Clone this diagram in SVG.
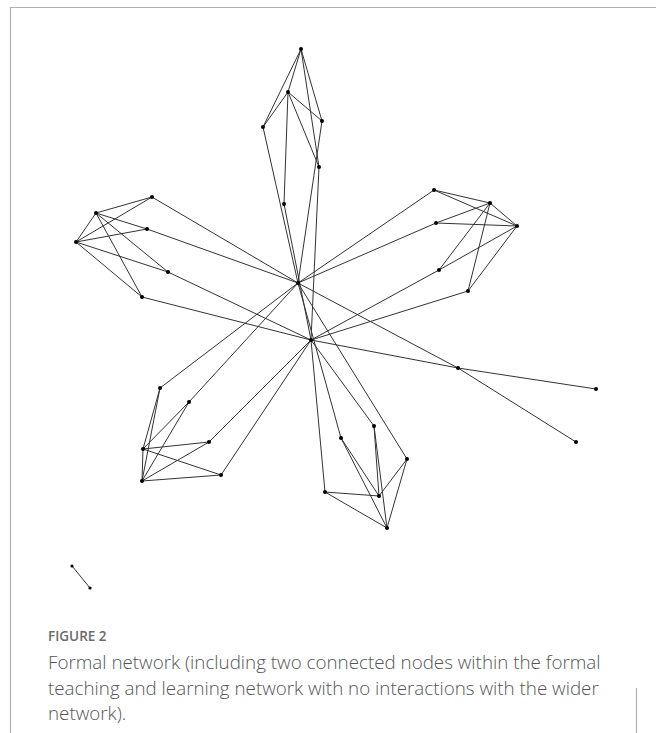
<svg xmlns="http://www.w3.org/2000/svg" width="656" height="733" viewBox="0 0 656 733">
<style>
.e{stroke:#333;stroke-width:1;fill:none}
.n circle{fill:#000}
.frame{stroke:#b0b0b0;stroke-width:1.2;fill:none}
.fig{font-family:"Open Sans","Liberation Sans",sans-serif;font-size:13.5px;font-weight:600;fill:#6a6a6a}
.cap{font-family:"Open Sans","Liberation Sans",sans-serif;font-size:18.8px;font-weight:300;fill:#555}
</style>
<rect width="656" height="733" fill="#fff"/>
<path class="frame" d="M10.5,733 V7.5 H656 M636.5,688 V733"/>
<g id="connectors" class="e">
<line x1="301" y1="49" x2="288" y2="92"/>
<line x1="301" y1="49" x2="263" y2="127"/>
<line x1="301" y1="49" x2="322" y2="121"/>
<line x1="301" y1="49" x2="319" y2="167"/>
<line x1="288" y1="92" x2="263" y2="127"/>
<line x1="288" y1="92" x2="322" y2="121"/>
<line x1="288" y1="92" x2="319" y2="167"/>
<line x1="288" y1="92" x2="284" y2="204"/>
<line x1="263" y1="127" x2="298" y2="283"/>
<line x1="322" y1="121" x2="298" y2="283"/>
<line x1="319" y1="167" x2="311" y2="340"/>
<line x1="284" y1="204" x2="311" y2="340"/>
<line x1="96" y1="213" x2="152" y2="197"/>
<line x1="76" y1="242" x2="152" y2="197"/>
<line x1="96" y1="213" x2="147" y2="229"/>
<line x1="76" y1="242" x2="147" y2="229"/>
<line x1="76" y1="242" x2="96" y2="213"/>
<line x1="96" y1="213" x2="168" y2="272"/>
<line x1="96" y1="213" x2="142" y2="297"/>
<line x1="76" y1="242" x2="168" y2="272"/>
<line x1="76" y1="242" x2="142" y2="297"/>
<line x1="152" y1="197" x2="298" y2="283"/>
<line x1="147" y1="229" x2="298" y2="283"/>
<line x1="168" y1="272" x2="311" y2="340"/>
<line x1="142" y1="297" x2="311" y2="340"/>
<line x1="434" y1="190" x2="490" y2="203"/>
<line x1="434" y1="190" x2="517" y2="226"/>
<line x1="436" y1="223" x2="490" y2="203"/>
<line x1="436" y1="223" x2="517" y2="226"/>
<line x1="490" y1="203" x2="517" y2="226"/>
<line x1="490" y1="203" x2="439" y2="270"/>
<line x1="490" y1="203" x2="468" y2="291"/>
<line x1="517" y1="226" x2="439" y2="270"/>
<line x1="517" y1="226" x2="468" y2="291"/>
<line x1="434" y1="190" x2="298" y2="283"/>
<line x1="436" y1="223" x2="298" y2="283"/>
<line x1="439" y1="270" x2="311" y2="340"/>
<line x1="468" y1="291" x2="311" y2="340"/>
<line x1="298" y1="283" x2="458" y2="368"/>
<line x1="458" y1="368" x2="576" y2="442"/>
<line x1="311" y1="340" x2="458" y2="368"/>
<line x1="458" y1="368" x2="596" y2="389"/>
<line x1="160" y1="388" x2="143" y2="449"/>
<line x1="160" y1="388" x2="142" y2="481"/>
<line x1="189" y1="402" x2="143" y2="449"/>
<line x1="189" y1="402" x2="142" y2="481"/>
<line x1="143" y1="449" x2="209" y2="442"/>
<line x1="143" y1="449" x2="221" y2="475"/>
<line x1="143" y1="449" x2="142" y2="481"/>
<line x1="142" y1="481" x2="209" y2="442"/>
<line x1="142" y1="481" x2="221" y2="475"/>
<line x1="160" y1="388" x2="298" y2="283"/>
<line x1="189" y1="402" x2="298" y2="283"/>
<line x1="209" y1="442" x2="311" y2="340"/>
<line x1="221" y1="475" x2="311" y2="340"/>
<line x1="374" y1="426" x2="379" y2="496"/>
<line x1="374" y1="426" x2="387" y2="528"/>
<line x1="341" y1="438" x2="379" y2="496"/>
<line x1="341" y1="438" x2="387" y2="528"/>
<line x1="407" y1="459" x2="379" y2="496"/>
<line x1="407" y1="459" x2="387" y2="528"/>
<line x1="325" y1="492" x2="379" y2="496"/>
<line x1="325" y1="492" x2="387" y2="528"/>
<line x1="325" y1="492" x2="311" y2="340"/>
<line x1="341" y1="438" x2="298" y2="283"/>
<line x1="374" y1="426" x2="311" y2="340"/>
<line x1="407" y1="459" x2="298" y2="283"/>
<line x1="72" y1="566" x2="90" y2="588"/>
</g>
<g class="n">
<g id="T0"><circle cx="301" cy="49" r="2"/></g>
<g id="T1"><circle cx="288" cy="92" r="2"/></g>
<g id="T2"><circle cx="263" cy="127" r="2"/></g>
<g id="T3"><circle cx="322" cy="121" r="2"/></g>
<g id="T4"><circle cx="319" cy="167" r="2"/></g>
<g id="T5"><circle cx="284" cy="204" r="2"/></g>
<g id="H1"><circle cx="298" cy="283" r="2"/></g>
<g id="H2"><circle cx="311" cy="340" r="2"/></g>
<g id="La"><circle cx="152" cy="197" r="2"/></g>
<g id="Lb"><circle cx="96" cy="213" r="2"/></g>
<g id="Lc"><circle cx="147" cy="229" r="2"/></g>
<g id="Ld"><circle cx="76" cy="242" r="2"/></g>
<g id="Le"><circle cx="168" cy="272" r="2"/></g>
<g id="Lf"><circle cx="142" cy="297" r="2"/></g>
<g id="Ra"><circle cx="434" cy="190" r="2"/></g>
<g id="Rb"><circle cx="490" cy="203" r="2"/></g>
<g id="Rc"><circle cx="436" cy="223" r="2"/></g>
<g id="Rd"><circle cx="517" cy="226" r="2"/></g>
<g id="Re"><circle cx="439" cy="270" r="2"/></g>
<g id="Rf"><circle cx="468" cy="291" r="2"/></g>
<g id="N1"><circle cx="458" cy="368" r="2"/></g>
<g id="N2"><circle cx="596" cy="389" r="2"/></g>
<g id="N3"><circle cx="576" cy="442" r="2"/></g>
<g id="BLa"><circle cx="160" cy="388" r="2"/></g>
<g id="BLb"><circle cx="189" cy="402" r="2"/></g>
<g id="BLc"><circle cx="143" cy="449" r="2"/></g>
<g id="BLd"><circle cx="209" cy="442" r="2"/></g>
<g id="BLe"><circle cx="221" cy="475" r="2"/></g>
<g id="BLf"><circle cx="142" cy="481" r="2"/></g>
<g id="Ba"><circle cx="374" cy="426" r="2"/></g>
<g id="Bb"><circle cx="341" cy="438" r="2"/></g>
<g id="Bc"><circle cx="407" cy="459" r="2"/></g>
<g id="Bd"><circle cx="325" cy="492" r="2"/></g>
<g id="Be"><circle cx="379" cy="496" r="2"/></g>
<g id="Bf"><circle cx="387" cy="528" r="2"/></g>
<g id="P1"><circle cx="72" cy="566" r="1.6"/></g>
<g id="P2"><circle cx="90" cy="588" r="1.6"/></g>
</g>
<text class="fig" x="48" y="641">FIGURE 2</text>
<text class="cap" x="48" y="669">Formal network (including two connected nodes within the formal</text>
<text class="cap" x="48" y="695">teaching and learning network with no interactions with the wider</text>
<text class="cap" x="48" y="720">network).</text>
</svg>
